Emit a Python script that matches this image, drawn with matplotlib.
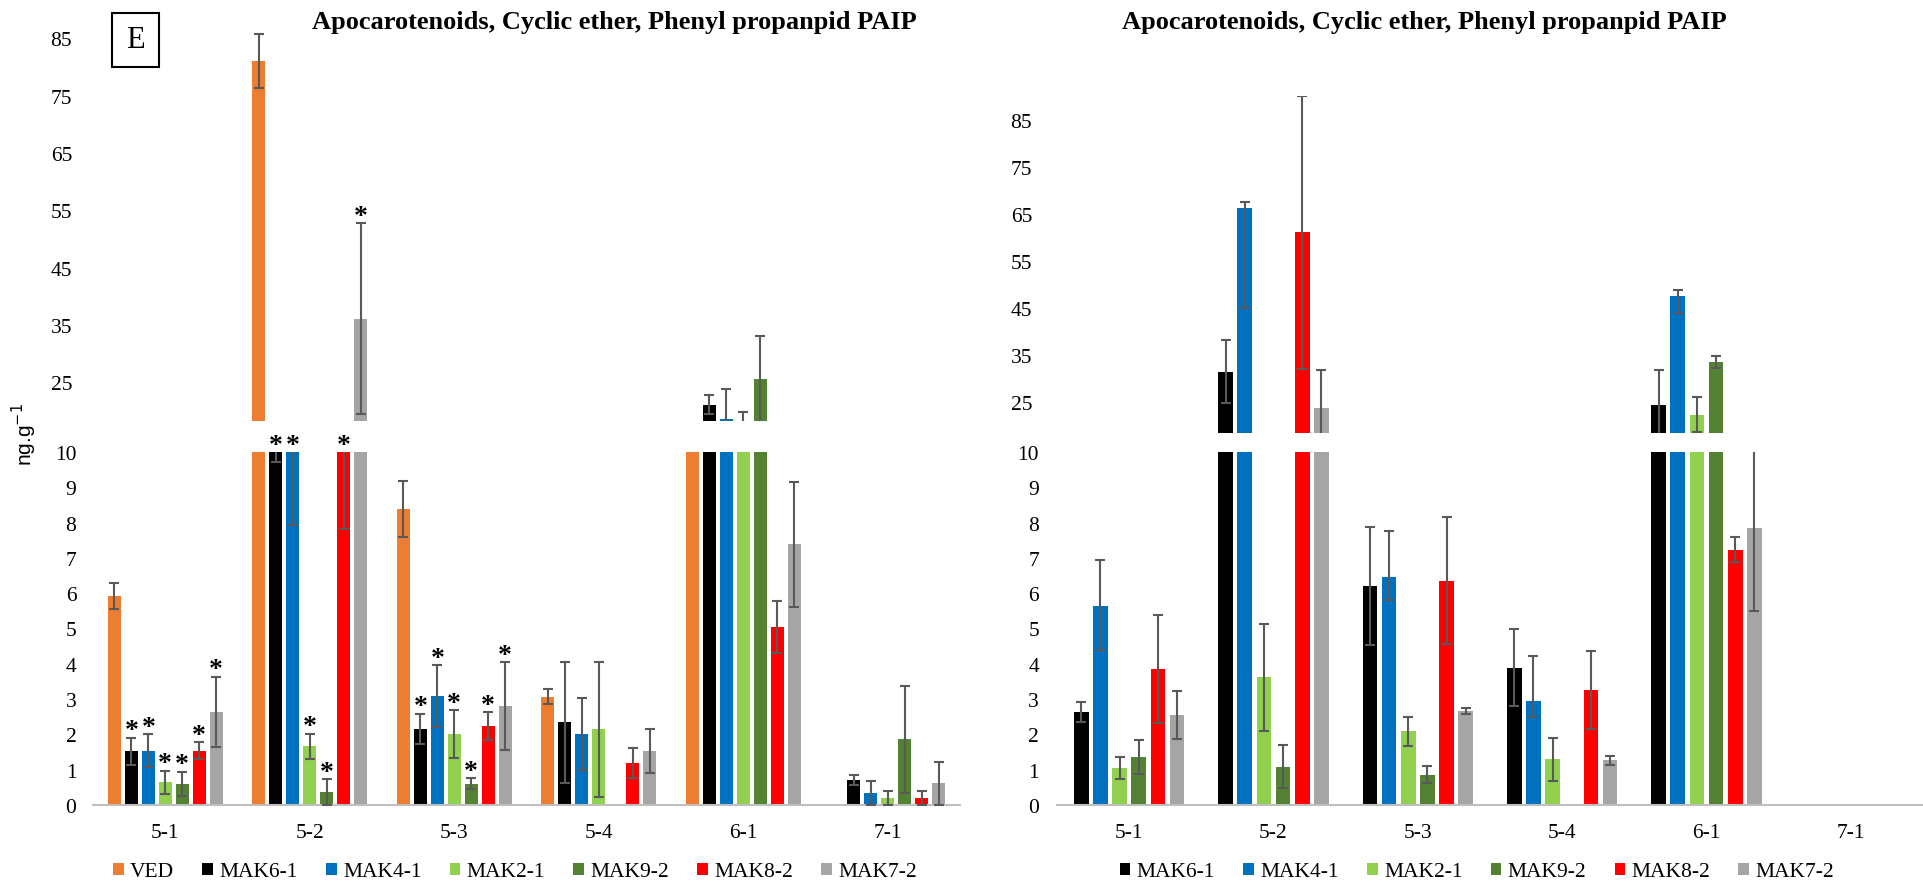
import numpy as np
import matplotlib
matplotlib.use("Agg")
import matplotlib.pyplot as plt
from matplotlib.patches import Rectangle

# ---------------- data ----------------
categories = ['5-1', '5-2', '5-3', '5-4', '6-1', '7-1']
left_series = ['VED', 'MAK6-1', 'MAK4-1', 'MAK2-1', 'MAK9-2', 'MAK8-2', 'MAK7-2']
right_series = ['MAK6-1', 'MAK4-1', 'MAK2-1', 'MAK9-2', 'MAK8-2', 'MAK7-2']
series_colors = ['#ED7D31', '#000000', '#0070C0', '#92D050', '#548235', '#FF0000', '#A5A5A5']

title_text = 'Apocarotenoids, Cyclic ether, Phenyl propanpid PAIP'

# left panel (ng.g-1), symmetric errors
L_VED = [5.92, 81.0, 8.39, 3.07, 14.0, 0]
L_VED_err = [0.36, 4.65, 0.80, 0.21, 1.0, 0]
L_MAK6_1 = [1.52, 10.1, 2.16, 2.34, 21.1, 0.71]
L_MAK6_1_err = [0.38, 0.38, 0.42, 1.72, 1.7, 0.14]
L_MAK4_1 = [1.54, 11.0, 3.09, 2.01, 18.6, 0.34]
L_MAK4_1_err = [0.46, 3.06, 0.87, 1.02, 5.3, 0.35]
L_MAK2_1 = [0.64, 1.66, 2.01, 2.14, 17.6, 0.19]
L_MAK2_1_err = [0.33, 0.36, 0.68, 1.92, 2.2, 0.20]
L_MAK9_2 = [0.60, 0.36, 0.60, 0, 25.5, 1.86]
L_MAK9_2_err = [0.34, 0.37, 0.16, 0, 7.6, 1.51]
L_MAK8_2 = [1.54, 12.0, 2.24, 1.19, 5.04, 0.19]
L_MAK8_2_err = [0.24, 4.17, 0.39, 0.42, 0.74, 0.20]
L_MAK7_2 = [2.64, 36.1, 2.80, 1.52, 7.38, 0.61]
L_MAK7_2_err = [1.00, 16.6, 1.25, 0.62, 1.78, 0.62]
left_star_categories = ['5-1', '5-2', '5-3']   # significance marks on MAK lines

# right panel (ng.g-1), lower / upper errors
R_MAK6_1 = [2.64, 31.4, 6.20, 3.87, 24.4, 0]
R_MAK6_1_lo = [0.28, 6.5, 1.66, 1.07, 7.5, 0]
R_MAK6_1_hi = [0.29, 6.7, 1.68, 1.12, 7.5, 0]
R_MAK4_1 = [5.65, 66.2, 6.47, 2.95, 47.6, 0]
R_MAK4_1_lo = [1.27, 21.2, 0.66, 0.46, 3.7, 0]
R_MAK4_1_hi = [1.29, 1.4, 1.29, 1.28, 1.3, 0]
R_MAK2_1 = [1.06, 3.62, 2.09, 1.29, 22.2, 0]
R_MAK2_1_lo = [0.31, 1.51, 0.41, 0.60, 3.5, 0]
R_MAK2_1_hi = [0.31, 1.51, 0.41, 0.60, 3.8, 0]
R_MAK9_2 = [1.36, 1.09, 0.86, 0, 33.5, 0]
R_MAK9_2_lo = [0.49, 0.60, 0.24, 0, 1.2, 0]
R_MAK9_2_hi = [0.49, 0.60, 0.24, 0, 1.2, 0]
R_MAK8_2 = [3.85, 61.1, 6.35, 3.25, 7.23, 0]
R_MAK8_2_lo = [1.54, 29.0, 1.80, 1.10, 0.35, 0]
R_MAK8_2_hi = [1.54, 29.0, 1.80, 1.10, 0.35, 0]
R_MAK7_2 = [2.55, 23.7, 2.66, 1.27, 7.85, 0]
R_MAK7_2_lo = [0.68, 8.2, 0.09, 0.13, 2.35, 0]
R_MAK7_2_hi = [0.68, 8.2, 0.09, 0.13, 2.35, 0]

lower_ticks = list(range(0, 11))
upper_ticks = [25, 35, 45, 55, 65, 75, 85]

# ---------------- layout ----------------
W, H = 1923, 887
fig = plt.figure(figsize=(W / 100, H / 100), dpi=100)
SERIF = ['Liberation Serif', 'DejaVu Serif']
plt.rcParams['font.family'] = SERIF

def fx(px):
    return px / W

def fy(py):
    return 1 - py / H

def box(x0, x1, ytop, ybot):
    return [fx(x0), fy(ybot), fx(x1) - fx(x0), (ybot - ytop) / H]

ERR_COLOR = '#595959'


def panel(x0, x1, low_y, up_y, up_lim, names, vals, los, his, slot, width,
          pad_lo, pad_up, stars, legend_cx):
    ax_lo = fig.add_axes(box(x0, x1, *low_y))
    ax_up = fig.add_axes(box(x0, x1, *up_y))
    xs = np.arange(len(categories))
    n = len(names)
    for k, name in enumerate(names):
        v = np.asarray(vals[k], float)
        lo = np.asarray(los[k], float)
        hi = np.asarray(his[k], float)
        col = series_colors[left_series.index(name)]
        off = (k - (n - 1) / 2) * slot
        m = v > 0
        for ax in (ax_lo, ax_up):
            ax.bar(xs + off, v, width, color=col, zorder=2,
                   label=name if ax is ax_lo else None)
            ax.errorbar(xs[m] + off, v[m], yerr=[lo[m], hi[m]], fmt='none',
                        ecolor=ERR_COLOR, elinewidth=1.5, capsize=3.5,
                        capthick=1.5, zorder=3)
        if stars and name != 'VED':
            for i, c in enumerate(categories):
                if c not in stars:
                    continue
                top = v[i] + hi[i]
                if top <= 10:
                    ax, y = ax_lo, top
                elif v[i] >= up_lim[0]:
                    ax, y = ax_up, top
                else:
                    ax, y = ax_lo, 10
                ax.annotate('*', xy=(xs[i] + off, y), xytext=(0, -4),
                            textcoords='offset points', ha='center', va='bottom',
                            fontsize=20, fontweight='bold', color='black',
                            annotation_clip=False, zorder=5)

    for ax in (ax_lo, ax_up):
        ax.set_xlim(-0.5, len(categories) - 0.5)
        for s in ax.spines.values():
            s.set_visible(False)
        ax.set_facecolor('none')
    ax_lo.set_ylim(0, 10)
    ax_lo.set_yticks(lower_ticks)
    ax_lo.set_xticks(xs)
    ax_lo.set_xticklabels(categories)
    ax_lo.spines['bottom'].set_visible(True)
    ax_lo.spines['bottom'].set_color('#BFBFBF')
    ax_lo.spines['bottom'].set_linewidth(1.5)
    ax_lo.tick_params(axis='x', length=0, pad=13, labelsize=15.5)
    ax_lo.tick_params(axis='y', length=0, pad=pad_lo, labelsize=15.5)
    ax_up.set_ylim(*up_lim)
    ax_up.set_yticks(upper_ticks)
    ax_up.set_xticks([])
    ax_up.tick_params(axis='y', length=0, pad=pad_up, labelsize=15.5)

    ax_lo.legend(loc='center', bbox_to_anchor=(fx(legend_cx), fy(873)),
                 bbox_transform=fig.transFigure, ncol=n, frameon=False,
                 fontsize=15.5, handlelength=0.5, handleheight=0.5,
                 handletextpad=0.3, columnspacing=1.3, borderaxespad=0)
    return ax_lo, ax_up


left_vals = [L_VED, L_MAK6_1, L_MAK4_1, L_MAK2_1, L_MAK9_2, L_MAK8_2, L_MAK7_2]
left_errs = [L_VED_err, L_MAK6_1_err, L_MAK4_1_err, L_MAK2_1_err, L_MAK9_2_err,
             L_MAK8_2_err, L_MAK7_2_err]
right_vals = [R_MAK6_1, R_MAK4_1, R_MAK2_1, R_MAK9_2, R_MAK8_2, R_MAK7_2]
right_los = [R_MAK6_1_lo, R_MAK4_1_lo, R_MAK2_1_lo, R_MAK9_2_lo, R_MAK8_2_lo, R_MAK7_2_lo]
right_his = [R_MAK6_1_hi, R_MAK4_1_hi, R_MAK2_1_hi, R_MAK9_2_hi, R_MAK8_2_hi, R_MAK7_2_hi]

panel(93, 960, (453, 806), (22, 421.7), (18.3, 88.0), left_series,
      left_vals, left_errs, left_errs, 0.1174, 0.09, 12, 15,
      left_star_categories, 515)
panel(1057, 1923, (453, 806), (97, 434), (18.45, 90.0), right_series,
      right_vals, right_los, right_his, 0.1325, 0.1015, 13, 18,
      None, 1477)

# titles
fig.text(fx(614), fy(22), title_text, ha='center', va='center',
         fontsize=19, fontweight='bold')
fig.text(fx(1424), fy(22), title_text, ha='center', va='center',
         fontsize=19, fontweight='bold')

# panel letter
fig.add_artist(Rectangle((fx(112), fy(68)), fx(159) - fx(112), (68 - 14) / H,
                         transform=fig.transFigure, fill=False,
                         edgecolor='black', linewidth=1.5))
fig.text(fx(135.5), fy(41), 'E', ha='center', va='center', fontsize=22)

# y label
fig.text(fx(24), fy(435), 'ng.g$^{\\text{-}1}$' if False else r'ng.g$^{-1}$',
         rotation=90, ha='center', va='center',
         fontsize=15, family=['Liberation Sans', 'DejaVu Sans'])

fig.savefig('out.png', dpi=100)
